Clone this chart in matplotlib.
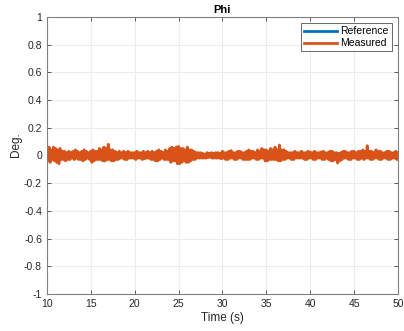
import numpy as np
import matplotlib
matplotlib.use("Agg")
import matplotlib.pyplot as plt

plt.rcParams['font.family'] = ['Liberation Sans', 'DejaVu Sans']

# Roll angle trace: successive peaks (upper) and troughs (lower),
# one pair every 0.25 s from 10 s to 50 s
time_start, time_step = 10.0, 0.25
phi_peaks = [
    0.05, 0.06, 0.04, 0.06, 0.05, 0.04, 0.05, 0.03,
    0.03, 0.02, 0.03, 0.02, 0.03, 0.04, 0.03, 0.02,
    0.03, 0.04, 0.03, 0.02, 0.03, 0.04, 0.03, 0.03,
    0.05, 0.04, 0.06, 0.05, 0.08, 0.04, 0.04, 0.03,
    0.02, 0.03, 0.02, 0.03, 0.02, 0.03, 0.02, 0.02,
    0.02, 0.03, 0.02, 0.02, 0.03, 0.02, 0.03, 0.02,
    0.03, 0.02, 0.03, 0.04, 0.03, 0.02, 0.04, 0.03,
    0.05, 0.06, 0.05, 0.06, 0.065, 0.05, 0.05, 0.04,
    0.06, 0.04, 0.04, 0.03, 0.02, 0.02, 0.02, 0.015,
    0.01, 0.02, 0.015, 0.02, 0.015, 0.02, 0.02, 0.015,
    0.03, 0.02, 0.02, 0.03, 0.035, 0.02, 0.02, 0.03,
    0.03, 0.02, 0.02, 0.03, 0.04, 0.03, 0.03, 0.02,
    0.04, 0.03, 0.05, 0.04, 0.04, 0.03, 0.05, 0.04,
    0.06, 0.04, 0.075, 0.04, 0.04, 0.03, 0.02, 0.02,
    0.02, 0.03, 0.02, 0.02, 0.03, 0.02, 0.02, 0.03,
    0.025, 0.02, 0.03, 0.02, 0.02, 0.025, 0.03, 0.02,
    0.02, 0.03, 0.03, 0.02, 0.02, 0.015, 0.02, 0.03,
    0.03, 0.02, 0.02, 0.03, 0.03, 0.02, 0.03, 0.03,
    0.04, 0.03, 0.07, 0.03, 0.03, 0.02, 0.04, 0.03,
    0.03, 0.02, 0.02, 0.03, 0.03, 0.02, 0.02, 0.03,
    0.02,
]
phi_troughs = [
    -0.04, -0.05, -0.03, -0.04, -0.05, -0.06, -0.03, -0.03,
    -0.04, -0.03, -0.03, -0.02, -0.03, -0.02, -0.03, -0.03,
    -0.04, -0.03, -0.02, -0.03, -0.05, -0.04, -0.03, -0.03,
    -0.03, -0.04, -0.04, -0.03, -0.03, -0.04, -0.04, -0.03,
    -0.03, -0.02, -0.02, -0.03, -0.03, -0.02, -0.02, -0.02,
    -0.03, -0.02, -0.02, -0.03, -0.025, -0.02, -0.02, -0.03,
    -0.03, -0.04, -0.04, -0.03, -0.02, -0.03, -0.03, -0.03,
    -0.05, -0.04, -0.04, -0.06, -0.06, -0.05, -0.04, -0.05,
    -0.05, -0.04, -0.03, -0.03, -0.02, -0.02, -0.02, -0.02,
    -0.02, -0.015, -0.015, -0.02, -0.02, -0.02, -0.02, -0.025,
    -0.02, -0.03, -0.03, -0.02, -0.02, -0.03, -0.03, -0.02,
    -0.02, -0.03, -0.03, -0.03, -0.03, -0.02, -0.02, -0.03,
    -0.03, -0.02, -0.02, -0.04, -0.04, -0.03, -0.03, -0.03,
    -0.03, -0.04, -0.04, -0.03, -0.03, -0.02, -0.02, -0.03,
    -0.03, -0.02, -0.02, -0.02, -0.02, -0.03, -0.03, -0.02,
    -0.02, -0.03, -0.03, -0.02, -0.02, -0.03, -0.03, -0.02,
    -0.03, -0.04, -0.04, -0.03, -0.055, -0.04, -0.03, -0.02,
    -0.02, -0.03, -0.03, -0.02, -0.02, -0.03, -0.03, -0.02,
    -0.03, -0.02, -0.02, -0.03, -0.03, -0.02, -0.02, -0.03,
    -0.03, -0.02, -0.02, -0.03, -0.03, -0.02, -0.02, -0.03,
    -0.02,
]

n = len(phi_peaks)
t_peaks = time_start + time_step * np.arange(n)
t_troughs = t_peaks + time_step / 2
# interleave peaks and troughs into one time-ordered trace
time = np.empty(2 * n)
phi_measured = np.empty(2 * n)
time[0::2], time[1::2] = t_peaks, t_troughs
phi_measured[0::2], phi_measured[1::2] = phi_peaks, phi_troughs
keep = time <= 50.0
time, phi_measured = time[keep], phi_measured[keep]
phi_reference = np.zeros_like(phi_measured)

x_ticks = [10, 15, 20, 25, 30, 35, 40, 45, 50]
y_ticks = [-1, -0.8, -0.6, -0.4, -0.2, 0, 0.2, 0.4, 0.6, 0.8, 1]
y_tick_labels = ['-1', '-0.8', '-0.6', '-0.4', '-0.2', '0', '0.2', '0.4', '0.6', '0.8', '1']

fig = plt.figure(figsize=(4.04, 3.31), dpi=100)
ax = fig.add_axes([0.116, 0.112, 0.869, 0.837])

ax.plot(time, phi_reference, color='#0072BD', lw=2, label='Reference')
ax.plot(time, phi_measured, color='#D95319', lw=2, label='Measured')

ax.set_xlim(10, 50)
ax.set_ylim(-1, 1)
ax.set_xticks(x_ticks)
ax.set_yticks(y_ticks)
ax.set_yticklabels(y_tick_labels)
ax.grid(True, color='#ececec', lw=0.8)
ax.set_axisbelow(True)

spine_col = '#808080'
for s in ax.spines.values():
    s.set_color(spine_col)
    s.set_linewidth(0.8)
ax.tick_params(direction='in', length=3, width=0.6, color='#404040',
               labelsize=7.5, labelcolor='#262626', top=True, right=True)

ax.set_title('Phi', fontsize=8, fontweight='bold', color='black', pad=3)
ax.set_xlabel('Time (s)', fontsize=8.5, color='#262626', labelpad=2.5)
ax.set_ylabel('Deg.', fontsize=8.5, color='#262626')
ax.yaxis.set_label_coords(-0.072, 0.54)

leg = ax.legend(loc='upper right', fontsize=7.5, frameon=True, fancybox=False,
                borderpad=0.3, handlelength=3.2, labelspacing=0.2,
                borderaxespad=0.6, handletextpad=0.3)
leg.get_frame().set_edgecolor('#262626')
leg.get_frame().set_linewidth(0.6)

fig.savefig('out.png', dpi=100)
